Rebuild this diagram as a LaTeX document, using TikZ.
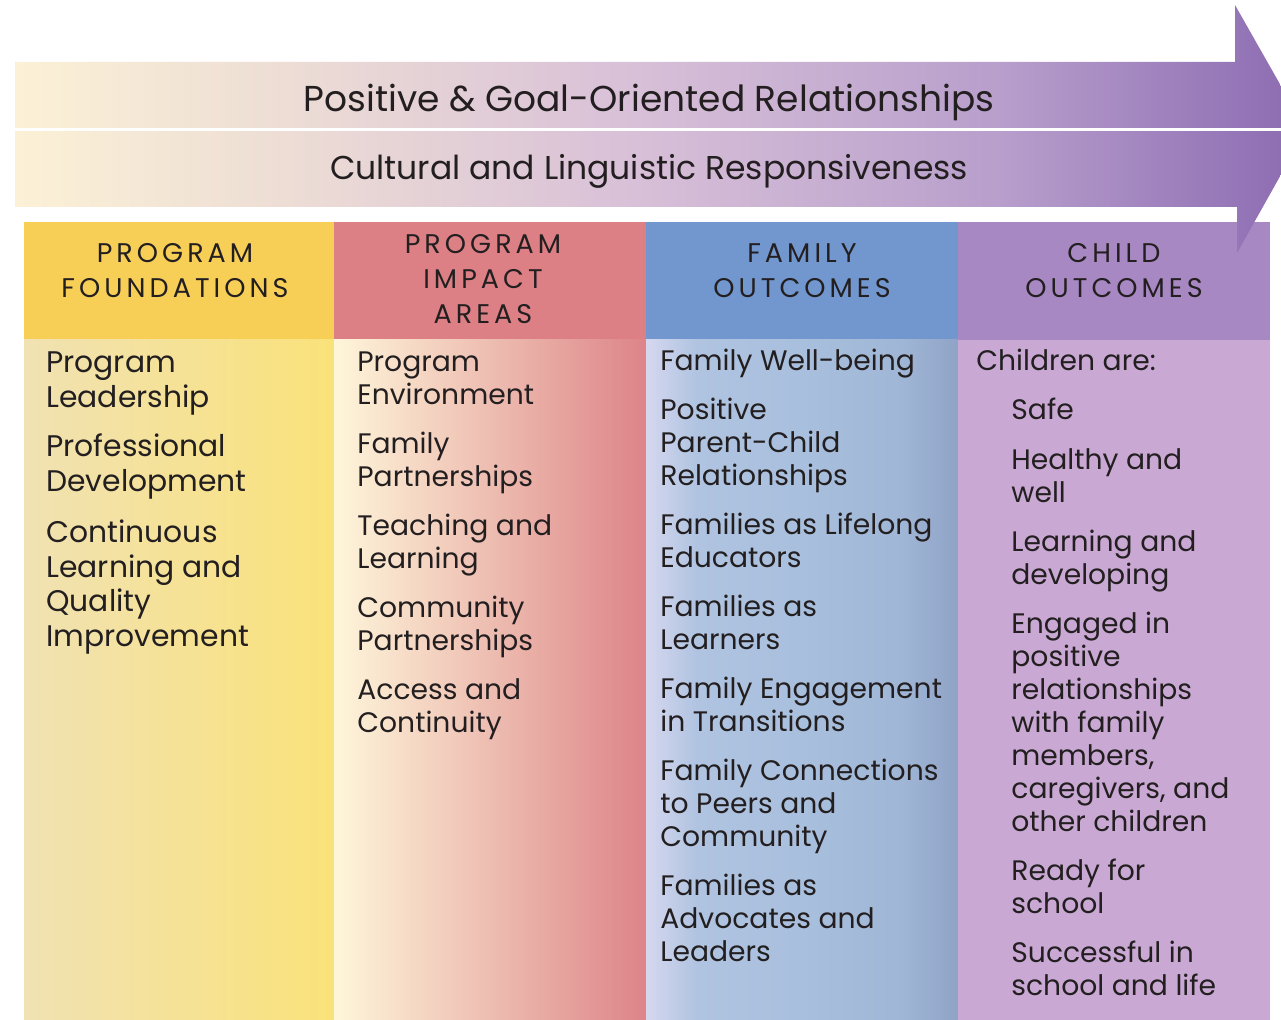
\documentclass[tikz,border=0pt]{standalone}
\usepackage{fontspec}
\setmainfont{Poppins}
\newfontfamily\hdrfont[LetterSpace=15]{Poppins}
\definecolor{txt}{HTML}{231F20}
\definecolor{ar0}{HTML}{FCF1D6}
\definecolor{ar1}{HTML}{ECDCD5}
\definecolor{ar2}{HTML}{D8C0D8}
\definecolor{ar3}{HTML}{B89FCC}
\definecolor{ar4}{HTML}{9677B8}
\definecolor{ar5}{HTML}{8C6BB0}
\definecolor{h1}{HTML}{F7CF57}
\definecolor{h2}{HTML}{DC8085}
\definecolor{h3}{HTML}{7296CE}
\definecolor{h4}{HTML}{A888C3}
\definecolor{b1l}{HTML}{F0E2B3}
\definecolor{b1r}{HTML}{FAE27A}
\definecolor{b2l}{HTML}{FEF6DA}
\definecolor{b2r}{HTML}{DD8488}
\definecolor{b3a}{HTML}{D6D7EF}
\definecolor{b3b}{HTML}{B0C4E1}
\definecolor{b3c}{HTML}{A8BFDD}
\definecolor{b3d}{HTML}{A0B6D6}
\definecolor{b3e}{HTML}{8FA3C6}
\definecolor{b4}{HTML}{C9A9D4}
\pgfdeclarehorizontalshading{arrowsh}{100bp}{color(0bp)=(ar0); color(25bp)=(ar0); color(36bp)=(ar1); color(49bp)=(ar2); color(63bp)=(ar3); color(72bp)=(ar4); color(75bp)=(ar5); color(100bp)=(ar5)}
\pgfdeclarehorizontalshading{famsh}{100bp}{color(0bp)=(b3a); color(25bp)=(b3a); color(33bp)=(b3b); color(50bp)=(b3c); color(66bp)=(b3d); color(75bp)=(b3e); color(100bp)=(b3e)}
\tikzset{
  itemtext/.style={anchor=base west, align=left, inner sep=0pt, text=txt, font=\fontsize{14.1}{16.5}\selectfont},
  bigitem/.style={itemtext, font=\fontsize{14.9}{17.2}\selectfont},
  hdrtext/.style={anchor=base, align=center, inner sep=0pt, text=txt, font=\hdrfont\fontsize{13.5}{17.5}\selectfont},
  bandtext/.style={anchor=base, inner sep=0pt, text=txt},
}
\begin{document}
\begin{tikzpicture}[x=0.5pt,y=-0.5pt]
\useasboundingbox (0,0) rectangle (1281,1020);
\begin{scope}
\clip (0,0) rectangle (1281,1020);
% column headers
\fill[h1] (24,222) rectangle (334,340);
\fill[h2] (334,222) rectangle (646,340);
\fill[h3] (646,222) rectangle (958,340);
\fill[h4] (958,222) rectangle (1270,340);
% column bodies
\shade[left color=b1l, right color=b1r] (24,340) rectangle (334,1020);
\shade[left color=b2l, right color=b2r] (334,340) rectangle (646,1020);
\shade[shading=famsh] (646,340) rectangle (958,1020);
\fill[b4] (958,340) rectangle (1270,1020);
% arrow
\shade[shading=arrowsh] (15,62) -- (1235,62) -- (1235,5) -- (1306,130) -- (1237,253) -- (1237,207) -- (15,207) -- cycle;
\draw[white, line width=1.5pt] (15,129.5) -- (1310,129.5);
\end{scope}
% band texts
\node[bandtext, font=\fontsize{18}{21}\selectfont] (band1) at (649,112) {Positive \& Goal-Oriented Relationships};
\node[bandtext, font=\fontsize{16.5}{20}\selectfont] (band2) at (649,180) {Cultural and Linguistic Responsiveness};
% headers (anchor = baseline of last line)
\node[hdrtext] (hd1) at (175,298) {PROGRAM\\FOUNDATIONS};
\node[hdrtext] (hd2) at (483,324) {PROGRAM\\IMPACT\\AREAS};
\node[hdrtext] (hd3) at (802,298) {FAMILY\\OUTCOMES};
\node[hdrtext] (hd4) at (1114,298) {CHILD\\OUTCOMES};
% column 1 (anchor = baseline of last line)
\node[bigitem] (pf1) at (46,407.4) {Program\\Leadership};
\node[bigitem] (pf2) at (46,491.4) {Professional\\Development};
\node[bigitem] (pf3) at (46,646.2) {Continuous\\Learning and\\Quality\\Improvement};
% column 2
\node[itemtext] (pi1) at (357,405) {Program\\Environment};
\node[itemtext] (pi2) at (357,487) {Family\\Partnerships};
\node[itemtext] (pi3) at (357,569) {Teaching and\\Learning};
\node[itemtext] (pi4) at (357,651) {Community\\Partnerships};
\node[itemtext] (pi5) at (357,733) {Access and\\Continuity};
% column 3
\node[itemtext] (fo1) at (660,371) {Family Well-being};
\node[itemtext] (fo2) at (660,486) {Positive\\Parent-Child\\Relationships};
\node[itemtext] (fo3) at (660,568) {Families as Lifelong\\Educators};
\node[itemtext] (fo4) at (660,650) {Families as\\Learners};
\node[itemtext] (fo5) at (660,732) {Family Engagement\\in Transitions};
\node[itemtext] (fo6) at (660,847) {Family Connections\\to Peers and\\Community};
\node[itemtext] (fo7) at (660,962) {Families as\\Advocates and\\Leaders};
% column 4
\node[itemtext] (co0) at (976,371) {Children are:};
\node[itemtext] (co1) at (1011,420) {Safe};
\node[itemtext] (co2) at (1011,503) {Healthy and\\well};
\node[itemtext] (co3) at (1011,585) {Learning and\\developing};
\node[itemtext] (co4) at (1011,832) {Engaged in\\positive\\relationships\\with family\\members,\\caregivers, and\\other children};
\node[itemtext] (co5) at (1011,914) {Ready for\\school};
\node[itemtext] (co6) at (1011,996) {Successful in\\school and life};
\end{tikzpicture}
\end{document}
